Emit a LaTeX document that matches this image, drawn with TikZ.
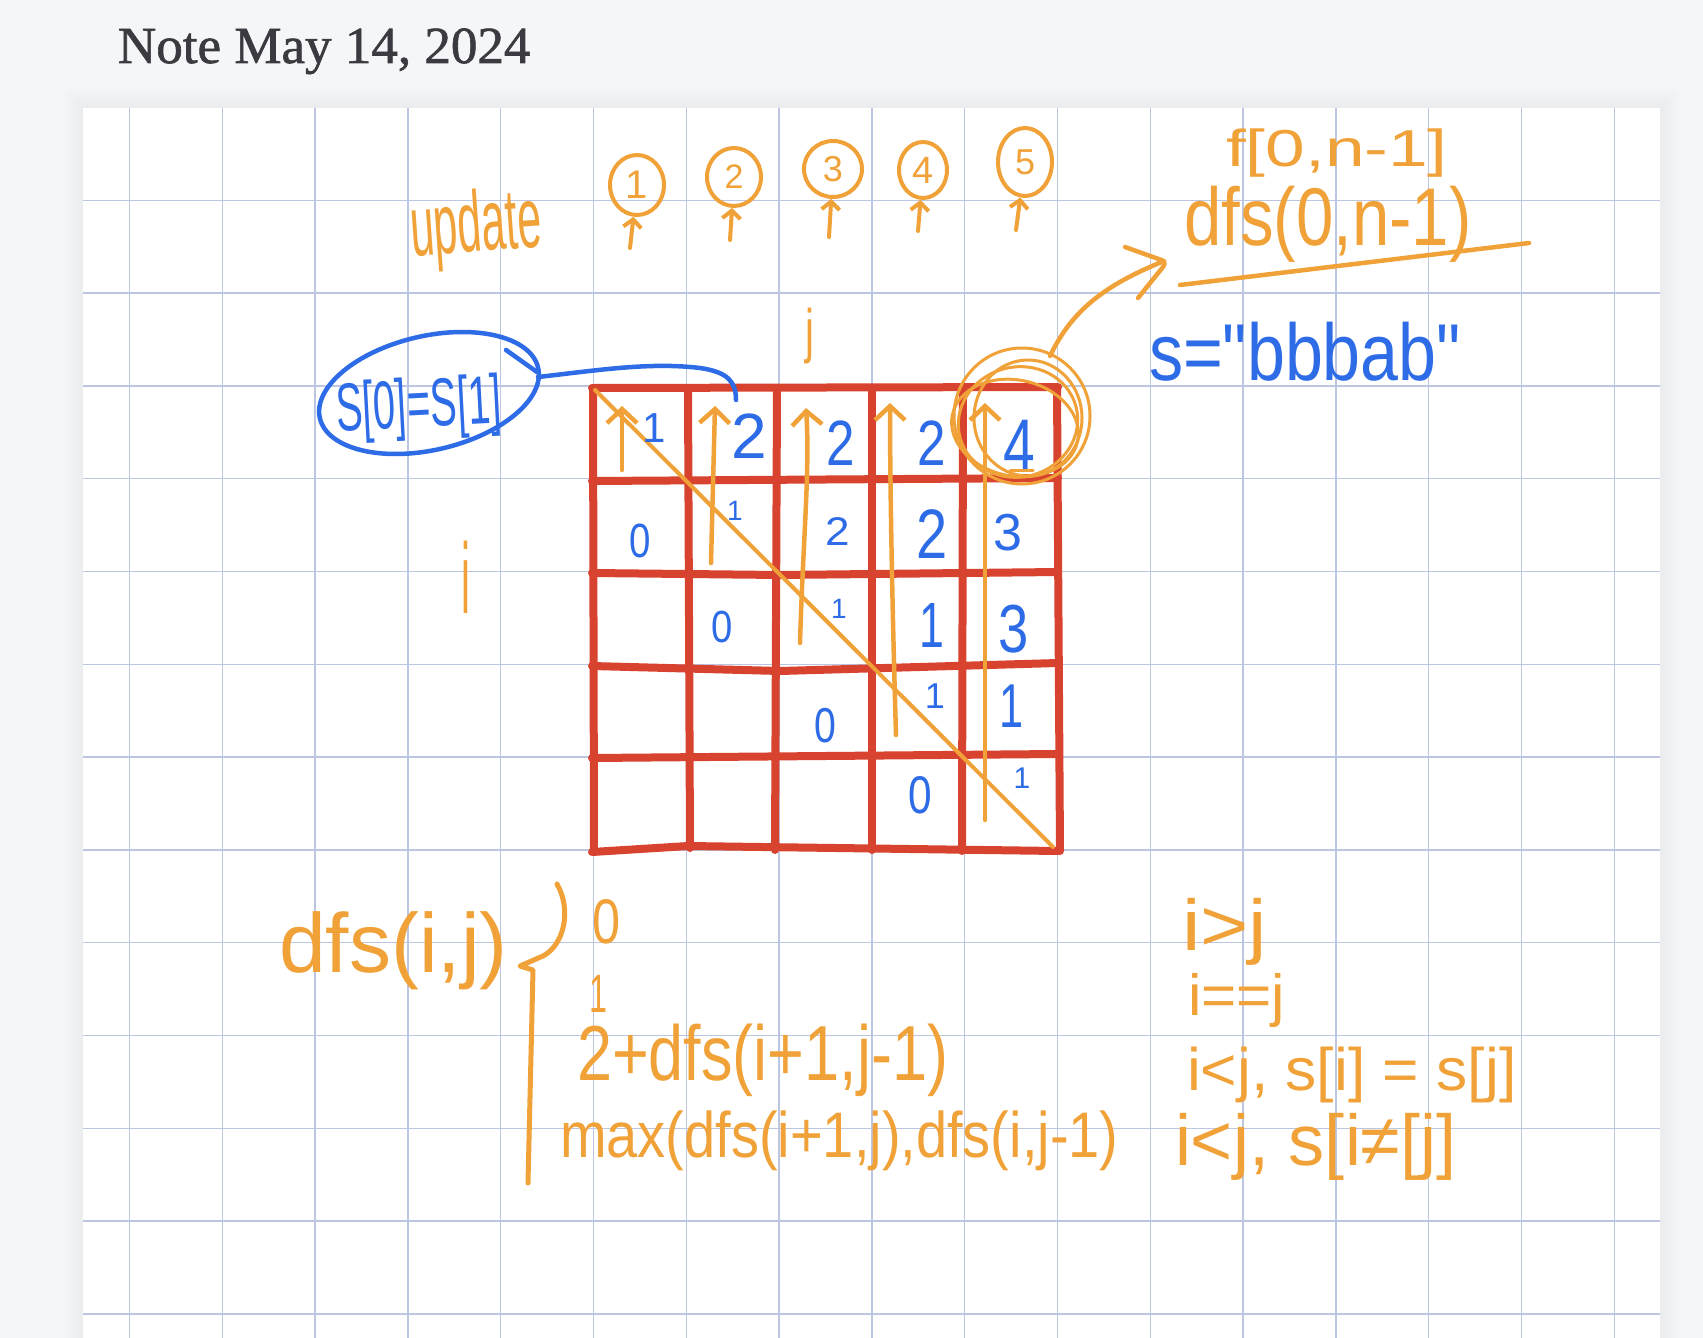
\documentclass[tikz,border=0pt]{standalone}
\usepackage{fontspec}
\usepackage{graphicx}
\usetikzlibrary{arrows.meta,shapes.geometric}
\newfontfamily\hand{Liberation Sans}
\newfontfamily\titlefont[FakeBold=1.2]{Liberation Serif}
\newcommand\hwf[1]{\hand\fontsize{#1}{#1}\selectfont}
\definecolor{orng}{RGB}{240,162,56}
\definecolor{blu}{RGB}{45,108,230}
\definecolor{redc}{RGB}{216,67,47}
\definecolor{gridc}{RGB}{188,198,224}
\definecolor{bgc}{RGB}{245,246,248}
\definecolor{titlec}{RGB}{58,58,64}
\begin{document}
\begin{tikzpicture}[x=1pt,y=-1pt,
  gridline/.style={draw=gridc,line width=1.4pt},
  redline/.style={draw=redc,line width=8pt,line cap=round,line join=round},
  oline/.style={draw=orng,line width=4.5pt,line cap=round,line join=round},
  bline/.style={draw=blu,line width=4.5pt,line cap=round,line join=round},
  barb/.style={-{Straight Barb[length=14pt,width=30pt]}},
  sbarb/.style={-{Straight Barb[length=8pt,width=18pt]}},
  hw/.style={inner sep=0pt,outer sep=0pt,anchor=base},
  hwl/.style={inner sep=0pt,outer sep=0pt,anchor=base west},
  ocirc/.style={draw=orng,line width=4pt,ellipse,inner sep=0pt,text=orng}]
\useasboundingbox (0,0) rectangle (1703,1338);
\fill[bgc] (0,0) rectangle (1703,1338);
\foreach \s in {1,...,10} \fill[black,opacity=0.005] ({83-2*\s},{108-2*\s}) rectangle ({1660+2*\s},1338);
\fill[white] (83,108) rectangle (1660,1338);
\foreach \k in {0,...,16} \draw[gridline] ({129.5+92.8*\k},108) -- ({129.5+92.8*\k},1338);
\foreach \m in {0,...,12} \draw[gridline] (83,{200.3+92.8*\m}) -- (1660,{200.3+92.8*\m});

% title
\node[hwl,font=\titlefont\fontsize{52}{52}\selectfont,text=titlec] (title) at (118,63) {\scalebox{1.02}[1]{Note May 14, 2024}};

% red table
\draw[redline] (592,388) -- (1058,387);
\draw[redline] (592,481) -- (1058,478);
\draw[redline] (592,573) -- (780,575) -- (1058,572);
\draw[redline] (592,666) -- (780,671) -- (1058,663);
\draw[redline] (592,758) -- (1058,754);
\draw[redline] (592,852) -- (688,846) -- (1058,851);
\draw[redline] (593,388) -- (594,852);
\draw[redline] (688,388) -- (690,848);
\draw[redline] (777,388) -- (775,850);
\draw[redline] (872,388) -- (872,850);
\draw[redline] (963,388) -- (962,851);
\draw[redline] (1057,388) -- (1060,851);

% diagonal and column arrows
\draw[oline,line width=4pt] (595,390) -- (1053,847);
\draw[oline,barb] (622,470) -- (622,406);
\draw[oline,barb] (711,563) -- (715,406);
\draw[oline,barb] (800,643) .. controls (803,540) and (810,470) .. (806,408);
\draw[oline,barb] (896,735) .. controls (892,600) and (890,480) .. (890,403);
\draw[oline,barb] (985,820) -- (985,403);

% cell values
\node[hw,font=\hwf{42},text=blu] (v00) at (654,442) {1};
\node[hw,font=\hwf{64},text=blu] (v01) at (749,458) {2};
\node[hw,font=\hwf{64},text=blu] (v02) at (841,465) {\scalebox{0.8}[1]{2}};
\node[hw,font=\hwf{64},text=blu] (v03) at (932,465) {\scalebox{0.8}[1]{2}};
\node[hw,font=\hwf{76},text=blu] (v04) at (1019,472) {\scalebox{0.75}[1]{4}};
\node[hw,font=\hwf{48},text=blu] (v10) at (640,557) {\scalebox{0.8}[1]{0}};
\node[hw,font=\hwf{28},text=blu] (v11) at (735,520) {1};
\node[hw,font=\hwf{40},text=blu] (v12) at (838,545) {\scalebox{1.1}[1]{2}};
\node[hw,font=\hwf{70},text=blu] (v13) at (932,558) {\scalebox{0.8}[1]{2}};
\node[hw,font=\hwf{52},text=blu] (v14) at (1008,550) {3};
\node[hw,font=\hwf{45},text=blu] (v21) at (722,642) {\scalebox{0.85}[1]{0}};
\node[hw,font=\hwf{28},text=blu] (v22) at (839,618) {1};
\node[hw,font=\hwf{64},text=blu] (v23) at (932,647) {\scalebox{0.7}[1]{1}};
\node[hw,font=\hwf{68},text=blu] (v24) at (1014,652) {\scalebox{0.8}[1]{3}};
\node[hw,font=\hwf{49},text=blu] (v32) at (825,742) {\scalebox{0.8}[1]{0}};
\node[hw,font=\hwf{36},text=blu] (v33) at (935,708) {1};
\node[hw,font=\hwf{62},text=blu] (v34) at (1012,727) {\scalebox{0.7}[1]{1}};
\node[hw,font=\hwf{53},text=blu] (v43) at (920,813) {\scalebox{0.8}[1]{0}};
\node[hw,font=\hwf{30},text=blu] (v44) at (1022,788) {1};

% scribbled circle round 4
\draw[oline,line width=3pt] (1022,416) ellipse [x radius=68, y radius=68];
\draw[oline,line width=3pt,rotate around={15:(1018,422)}] (1018,422) ellipse [x radius=60, y radius=55];
\draw[oline,line width=3pt] (1028,418) ellipse [x radius=54, y radius=58];
\draw[oline,line width=3pt,rotate around={-12:(1015,428)}] (1015,428) ellipse [x radius=64, y radius=48];
\draw[oline,line width=3pt] (1010,470) -- (1033,470);

% arrow to dfs(0,n-1)
\coordinate (cst) at (1050,356);
\coordinate (ctip) at (1164,261);
\draw[oline] (cst) .. controls (1072,310) and (1105,285) .. (ctip);
\draw[oline,rounded corners=6pt] (1125,247) -- (1167,262) -- (1138,298);

% top right
\node[hwl,font=\hwf{52},text=orng] (f0n) at (1226,166) {\scalebox{1.37}[1]{f[0,n-1]}};
\node[hwl,font=\hwf{64},text=orng] (dfs0n) at (1184,245) {\scalebox{1.05}[1.28]{dfs(0,n-1)}};
\draw[oline] (1180,285) -- (1529,243);
\node[hwl,font=\hwf{62},text=blu] (sdef) at (1149,380) {\scalebox{1.1}[1.3]{s="bbbab"}};

% update and circled steps
\node[hwl,font=\hwf{43},text=orng,rotate=4] (upd) at (412,256) {\scalebox{1}[2]{update}};
\node[ocirc,minimum width=54pt,minimum height=60pt,font=\hwf{40}] (c1) at (637,185) {1};
\node[ocirc,minimum width=54pt,minimum height=58pt,font=\hwf{34}] (c2) at (734,177) {2};
\node[ocirc,minimum width=58pt,minimum height=56pt,font=\hwf{36}] (c3) at (833,169) {3};
\node[ocirc,minimum width=48pt,minimum height=56pt,font=\hwf{38}] (c4) at (923,170) {4};
\node[ocirc,minimum width=54pt,minimum height=68pt,font=\hwf{36}] (c5) at (1025,162) {5};
\draw[oline,line width=4pt,sbarb] (630,248) -- (c1);
\draw[oline,line width=4pt,sbarb] (730,240) -- (c2);
\draw[oline,line width=4pt,sbarb] (829,237) -- (c3);
\draw[oline,line width=4pt,sbarb] (918,231) -- (c4);
\draw[oline,line width=4pt,sbarb] (1016,230) -- (c5);

% axis labels
\node[hw,font=\hwf{40},text=orng] (jlab) at (810,351) {\scalebox{1}[1.5]{j}};
\node[hw,font=\hwf{40},text=orng] (ilab) at (466,613) {\scalebox{1}[2.5]{i}};

% S[0]=S[1] bubble
\node[hwl,font=\hwf{40},text=blu,rotate=3] (seq) at (337,431) {\scalebox{1}[1.7]{S[0]=S[1]}};
\draw[bline,rotate around={13:(429,393)}] (429,393) ellipse [x radius=112, y radius=57];
\draw[bline] (506,350) -- (537,372);
\coordinate (bst) at (538,377);
\coordinate (bend) at (736,400);
\draw[bline] (bst) .. controls (600,370) and (650,362) .. (700,368) .. controls (728,372) and (736,382) .. (bend);

% recurrence
\node[hwl,font=\hwf{84},text=orng] (dfsij) at (279,972) {dfs(i,j)};
\draw[oline,line width=5pt] (557,884) .. controls (572,910) and (564,945) .. (543,956) -- (520,966) -- (533,970) -- (528,1183);
\node[hw,font=\hwf{63},text=orng] (r0) at (607,943) {\scalebox{0.8}[1]{0}};
\node[hw,font=\hwf{54},text=orng] (r1) at (599,1012) {\scalebox{0.6}[1]{1}};
\node[hwl,font=\hwf{60},text=orng] (r2) at (577,1080) {\scalebox{1.05}[1.3]{2+dfs(i+1,j-1)}};
\node[hwl,font=\hwf{56},text=orng] (r3) at (560,1157) {\scalebox{1}[1.15]{max(dfs(i+1,j),dfs(i,j-1)}};
\node[hwl,font=\hwf{72},text=orng] (k0) at (1182,950) {\scalebox{1.15}[1]{i>j}};
\node[hwl,font=\hwf{58},text=orng] (k1) at (1188,1015) {\scalebox{1.04}[1]{i==j}};
\node[hwl,font=\hwf{60},text=orng] (k2) at (1187,1090) {\scalebox{1.04}[1]{i<j, s[i] = s[j]}};
\node[hwl,font=\hwf{72},text=orng] (k3) at (1175,1165) {i<j, s[i≠[j]};
\end{tikzpicture}
\end{document}
